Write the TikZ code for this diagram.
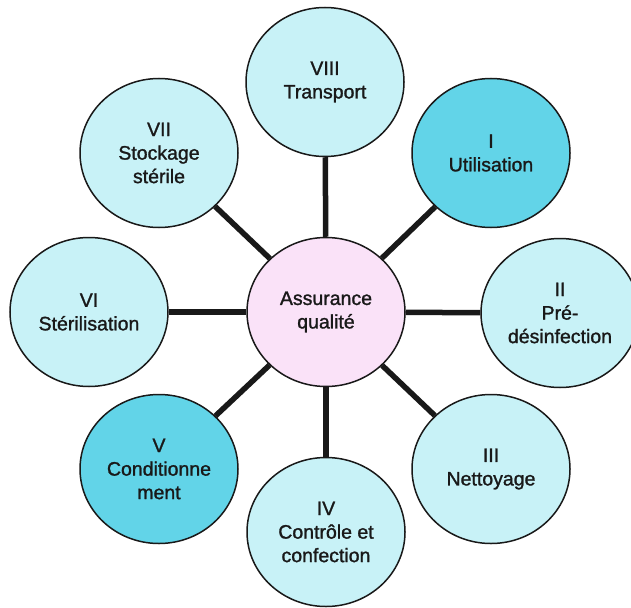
\documentclass[tikz,border=0pt]{standalone}
\usepackage{fontspec}
\setmainfont{Liberation Sans}
\newfontfamily\etiquette{Liberation Sans}[FakeBold=1.3]
\usetikzlibrary{shapes.geometric}

\definecolor{cyanclair}{RGB}{200,242,247}
\definecolor{cyanfonce}{RGB}{98,212,232}
\definecolor{roseclair}{RGB}{250,226,248}
\definecolor{encre}{RGB}{25,25,25}

\begin{document}
\begin{tikzpicture}[x=1pt,y=-1pt,
	etape/.style={ellipse,draw=encre,line width=1.5pt,fill=cyanclair,align=center,
		minimum width=158pt,minimum height=149pt,inner sep=0pt,text=encre,
		font=\etiquette\fontsize{19.5}{23.5}\selectfont},
	lien/.style={draw=encre,line width=5.5pt}]
	\useasboundingbox (0,0) rectangle (631,607);

	\node[etape,fill=roseclair] (qualite)
	at (326,312) {Assurance\\qualité};

	\node[etape,fill=cyanfonce] (utilisation)
	at (491,153) {I\\Utilisation};
	\node[etape] (predesinf)
	at (560,313) {II\\Pré-\\désinfection};
	\node[etape] (nettoyage)
	at (491,469) {III\\Nettoyage};
	\node[etape] (controle)
	at (326,532) {IV\\Contrôle et\\confection};
	\node[etape,fill=cyanfonce] (condition)
	at (159,469) {V\\Conditionne\\ment};
	\node[etape] (sterilisation)
	at (89,312) {VI\\Stérilisation};
	\node[etape] (stockage)
	at (159,153) {VII\\Stockage\\stérile};
	\node[etape] (transport)
	at (325,82) {VIII\\Transport};

	\draw[lien] (qualite) -- (utilisation);
	\draw[lien] (qualite) -- (predesinf);
	\draw[lien] (qualite) -- (nettoyage);
	\draw[lien] (qualite) -- (controle);
	\draw[lien] (qualite) -- (condition);
	\draw[lien] (qualite) -- (sterilisation);
	\draw[lien] (qualite) -- (stockage);
	\draw[lien] (qualite) -- (transport);
\end{tikzpicture}
\end{document}
